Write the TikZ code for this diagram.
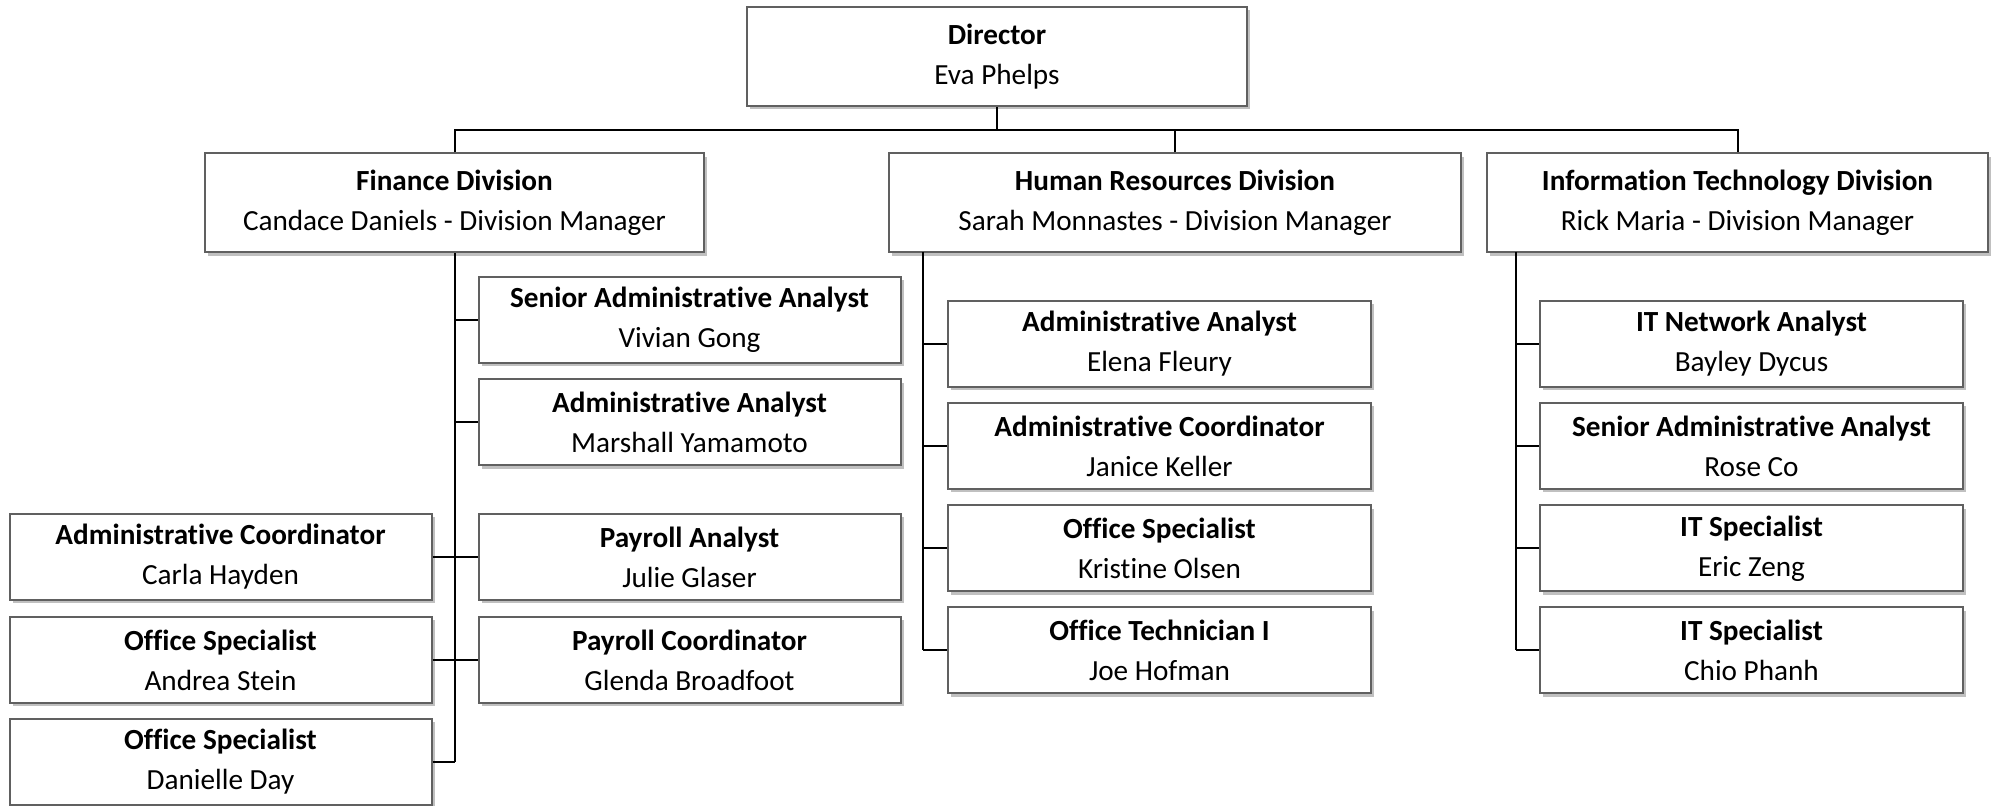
\documentclass[tikz,border=0pt]{standalone}
\usepackage{fontspec}
\setmainfont[Ligatures=NoCommon]{Carlito}
\usepackage{tikz}
\usetikzlibrary{shadows}
\definecolor{boxgray}{HTML}{606060}
\definecolor{shadegray}{HTML}{C0C0C0}

\begin{document}
\begin{tikzpicture}[x=0.5pt, y=-0.5pt,
    box/.style={draw=boxgray, line width=1pt, fill=white, inner sep=0pt, align=center,
        font=\fontsize{14.6}{20}\selectfont,
        drop shadow={shadow xshift=1.6pt, shadow yshift=-1.6pt, fill=shadegray, opacity=1}},
    head/.style={box, minimum height=49.5pt},
    staff/.style={box, minimum width=211pt, minimum height=43pt},
    link/.style={line width=1pt}]
    \useasboundingbox (0,0) rectangle (1993,806);

    % Director
    \node [head, minimum width=250pt] (dir) at (997,56.5) {\textbf{Director}\\Eva Phelps};
    \coordinate (bus) at (0,130);

    % Divisions
    \node [head, minimum width=249.5pt] (fin) at (454.5,203) {\textbf{Finance Division}\\Candace Daniels - Division Manager};
    \node [head, minimum width=286pt] (hr) at (1175,203) {\textbf{Human Resources Division}\\Sarah Monnastes - Division Manager};
    \node [head, minimum width=250.5pt] (it) at (1737.5,203) {\textbf{Information Technology Division}\\Rick Maria - Division Manager};

    \draw [link] (dir.south) -- (dir.south |- bus);
    \draw [link] (fin.north) |- (it.north |- bus) -- (it.north);
    \draw [link] (hr.north) -- (hr.north |- bus);

    % Finance staff
    \node [staff] (fsaa) at (689.5,320) {\textbf{Senior Administrative Analyst}\\Vivian Gong};
    \node [staff] (faa) at (689.5,422.5) {\textbf{Administrative Analyst}\\Marshall Yamamoto};
    \node [staff] (fpa) at (689.5,557) {\textbf{Payroll Analyst}\\Julie Glaser};
    \node [staff] (fpc) at (689.5,660) {\textbf{Payroll Coordinator}\\Glenda Broadfoot};
    \node [staff] (fac) at (220.5,557) {\textbf{Administrative Coordinator}\\Carla Hayden};
    \node [staff] (fos) at (220.5,660) {\textbf{Office Specialist}\\Andrea Stein};
    \node [staff] (fdd) at (220.5,762) {\textbf{Office Specialist}\\Danielle Day};

    \draw [link] (fin.south) -- (fin.south |- fdd.east);
    \draw [link] (fsaa.west) -- (fsaa.west -| fin.south);
    \draw [link] (faa.west) -- (faa.west -| fin.south);
    \draw [link] (fpa.west) -- (fpa.west -| fin.south);
    \draw [link] (fpc.west) -- (fpc.west -| fin.south);
    \draw [link] (fac.east) -- (fac.east -| fin.south);
    \draw [link] (fos.east) -- (fos.east -| fin.south);
    \draw [link] (fdd.east) -- (fdd.east -| fin.south);

    % HR staff
    \coordinate (hrtrunk) at (923,252);
    \node [staff, minimum width=211.5pt] (haa) at (1159.5,344) {\textbf{Administrative Analyst}\\Elena Fleury};
    \node [staff, minimum width=211.5pt] (hac) at (1159.5,446) {\textbf{Administrative Coordinator}\\Janice Keller};
    \node [staff, minimum width=211.5pt] (hos) at (1159.5,548.5) {\textbf{Office Specialist}\\Kristine Olsen};
    \node [staff, minimum width=211.5pt] (hot) at (1159.5,650.5) {\textbf{Office Technician I}\\Joe Hofman};

    \draw [link] (hrtrunk) -- (hrtrunk |- hot.west);
    \draw [link] (haa.west) -- (haa.west -| hrtrunk);
    \draw [link] (hac.west) -- (hac.west -| hrtrunk);
    \draw [link] (hos.west) -- (hos.west -| hrtrunk);
    \draw [link] (hot.west) -- (hot.west -| hrtrunk);

    % IT staff
    \coordinate (ittrunk) at (1516,252);
    \node [staff, minimum width=211.5pt] (ina) at (1751.5,344) {\textbf{IT Network Analyst}\\Bayley Dycus};
    \node [staff, minimum width=211.5pt] (isaa) at (1751.5,446) {\textbf{Senior Administrative Analyst}\\Rose Co};
    \node [staff, minimum width=211.5pt] (ise) at (1751.5,548.5) {\textbf{IT Specialist}\\Eric Zeng};
    \node [staff, minimum width=211.5pt] (isc) at (1751.5,650.5) {\textbf{IT Specialist}\\Chio Phanh};

    \draw [link] (ittrunk) -- (ittrunk |- isc.west);
    \draw [link] (ina.west) -- (ina.west -| ittrunk);
    \draw [link] (isaa.west) -- (isaa.west -| ittrunk);
    \draw [link] (ise.west) -- (ise.west -| ittrunk);
    \draw [link] (isc.west) -- (isc.west -| ittrunk);
\end{tikzpicture}
\end{document}
